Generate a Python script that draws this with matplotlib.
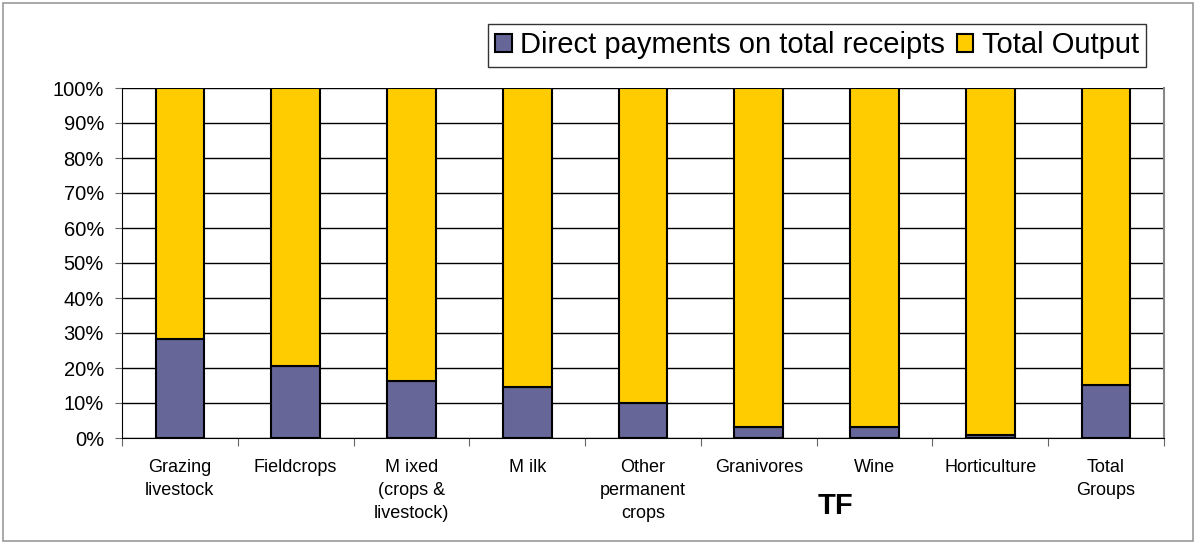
import matplotlib.pyplot as plt
from matplotlib.patches import Rectangle
import numpy as np

plt.rcParams['font.family'] = ['Liberation Sans', 'DejaVu Sans']

categories = [
    "Grazing\nlivestock", "Fieldcrops", "M ixed\n(crops &\nlivestock)", "M ilk",
    "Other\npermanent\ncrops", "Granivores", "Wine", "Horticulture", "Total\nGroups",
]
# share of direct payments on total receipts (%)
direct_payments = [28.2, 20.7, 16.4, 14.6, 9.9, 3.2, 3.2, 0.9, 15.2]
total_output = [100 - v for v in direct_payments]
yticks = [0, 10, 20, 30, 40, 50, 60, 70, 80, 90, 100]

W, H = 1198, 543
fig = plt.figure(figsize=(W / 100, H / 100), dpi=100)
ax = fig.add_axes([122 / W, 1 - 438 / H, (1164 - 122) / W, (438 - 88) / H])

# outer chart frame
fig.patches.append(Rectangle((3 / W, 2 / H), (1193 - 3) / W, (540 - 2) / H,
                             transform=fig.transFigure, fill=False,
                             edgecolor='#999999', lw=1.2))

x = np.arange(len(categories))
ax.bar(x, direct_payments, width=0.42, color='#666699', edgecolor='black',
       lw=1.5, label='Direct payments on total receipts', zorder=3)
ax.bar(x, total_output, width=0.42, bottom=direct_payments, color='#FFCC00',
       edgecolor='black', lw=1.5, label='Total Output', zorder=3)

ax.set_xlim(-0.5, len(categories) - 0.5)
ax.set_ylim(0, 100)
ax.set_yticks(yticks)
ax.set_yticklabels(['%d%%' % v for v in yticks], fontsize=14.5)
ax.yaxis.grid(True, color='black', lw=1, zorder=0)
ax.tick_params(axis='y', length=5, color='#666666', pad=8)

# ticks at category boundaries, labels at centres
ax.set_xticks(np.arange(-0.5, len(categories), 1.0))
ax.set_xticklabels([])
ax.tick_params(axis='x', which='major', length=6, color='#666666')
ax.set_xticks(x, minor=True)
ax.set_xticklabels(categories, minor=True, fontsize=13, linespacing=1.45)
ax.tick_params(axis='x', which='minor', length=0, pad=15)

ax.spines['top'].set_visible(False)
ax.spines['right'].set_color('#888888')
ax.spines['right'].set_linewidth(1.5)
ax.spines['left'].set_color('black')
ax.spines['bottom'].set_color('black')

fig.text(835 / W, 1 - 506 / H, 'TF', fontsize=21, fontweight='bold',
         ha='center', va='center')

leg = ax.legend(loc='upper right', bbox_to_anchor=(1146 / W, 1 - 24 / H),
                bbox_transform=fig.transFigure, ncol=2, fontsize=21,
                frameon=True, fancybox=False, edgecolor='black',
                handlelength=0.55, handleheight=0.55, handletextpad=0.3,
                columnspacing=0.4, borderpad=0.25, borderaxespad=0)
leg.get_frame().set_linewidth(1)

fig.savefig('out.png', dpi=100)
